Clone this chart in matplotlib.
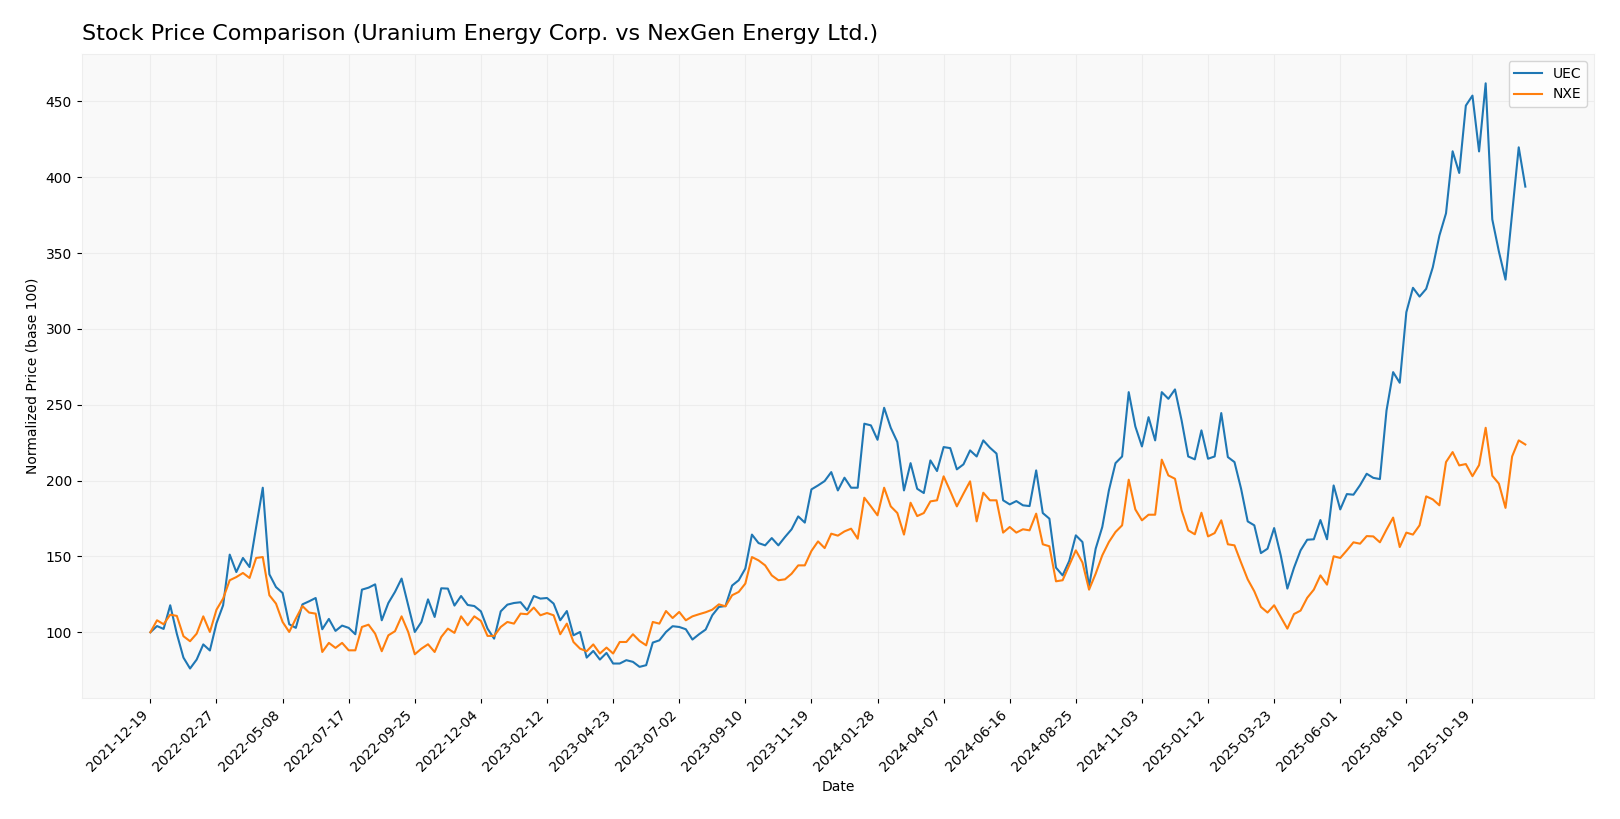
import pandas as pd
import numpy as np
import matplotlib
matplotlib.use('Agg')
import matplotlib.pyplot as plt

# weekly normalized closes (base 100)
start_date = '2021-12-19'

uec = [100, 104.1, 102.2, 117.8, 99, 83.3, 76.1, 82, 92, 88,
       106, 117.8, 151.2, 139.7, 149, 143, 169.4, 195.3, 138.2, 129.8,
       125.9, 105.3, 102.9, 118.4, 120.4, 122.6, 102, 108.8, 100.9, 104.4,
       102.9, 98.7, 128.1, 129.4, 131.6, 107.9, 119.3, 126.6, 135.4, 117.8,
       100.2, 106.8, 121.7, 110.1, 129, 128.8, 117.6, 123.9, 118, 117.3,
       113.8, 102.4, 95.8, 113.8, 118.2, 119.3, 119.8, 114.5, 123.9, 122.2,
       122.6, 118.9, 107.9, 114, 98, 100.2, 83.3, 87.7, 82, 86.4,
       79.4, 79.4, 81.6, 80.5, 77.2, 78.3, 93.2, 94.7, 100.2, 104,
       103.5, 102, 95.2, 98.7, 101.8, 111.2, 116.7, 117.3, 130.8, 134.3,
       142, 164.4, 158.8, 157.3, 162.1, 157.3, 162.8, 167.9, 176.4, 172.3,
       194.2, 196.8, 199.7, 205.6, 193.5, 201.9, 195.3, 195.3, 237.5, 236.4,
       226.9, 248, 234.8, 225.4, 193.5, 211.5, 194.6, 191.8, 213.3, 206.3,
       222.1, 221.4, 207.4, 210.7, 219.9, 215.9, 226.5, 221.7, 217.8, 187,
       184.3, 186.5, 183.7, 183.2, 206.7, 178.6, 174.9, 142.6, 137.5, 147,
       163.9, 159.5, 130.3, 155.1, 169.4, 193.5, 211.5, 215.9, 258.3, 235.7,
       222.5, 241.8, 226.5, 258.3, 253.9, 260.1, 239.7, 215.9, 214, 233.1,
       214.4, 215.9, 244.5, 215.5, 212.2, 194.6, 173.1, 170.5, 152.2, 155.1,
       168.7, 150.7, 128.8, 142.5, 154, 161, 161.3, 174, 161.3, 196.8,
       181, 191.1, 190.7, 197, 204.5, 201.8, 201, 246.2, 271.5, 264.5,
       311, 327.1, 321.3, 326.4, 340.6, 361.5, 376.2, 417.1, 402.8, 447.2,
       453.8, 417, 461.9, 372.2, 351, 332.5, 375.8, 419.7, 393.8]

nxe = [100, 107.9, 105.3, 111.6, 110.8, 97.4, 94.1, 99.1, 110.5, 100.2,
       114.9, 122.2, 134.3, 136.4, 139.1, 135.8, 149, 149.6, 124.4, 118.9,
       106.8, 100.2, 109, 117.3, 113, 112.3, 87, 93, 89.7, 93,
       88.1, 88.1, 103.5, 105, 99.1, 87.5, 98, 100.7, 110.5, 100.2,
       85.5, 89.2, 92.1, 87, 96.9, 102.4, 99.6, 110.5, 104.6, 110.5,
       107.5, 97.6, 97.6, 103.5, 106.8, 105.7, 112.3, 111.9, 116.3, 111.2,
       112.7, 111.2, 98.7, 105.7, 93.6, 89.2, 87.5, 92, 86, 89.9,
       86, 93.6, 93.6, 98.7, 94.3, 91.4, 106.8, 105.7, 114, 109.4,
       113.4, 107.9, 110.5, 111.9, 113.2, 114.9, 118.4, 117.1, 124.4, 126.6,
       132.1, 149.6, 147.4, 144.1, 137.5, 134.3, 134.9, 138.6, 144.1, 144.1,
       153.6, 159.9, 155.5, 165, 163.7, 166.5, 168.3, 161.7, 188.7, 183,
       177.1, 195.3, 183, 178.6, 164.4, 185.4, 176.6, 178.6, 186.3, 187,
       202.8, 193.1, 183, 191.4, 199.5, 173.1, 192, 187, 187, 165.7,
       169.4, 165.7, 167.9, 167.2, 178.2, 158, 156.7, 133.6, 134.3, 144.1,
       154, 146, 128.1, 138.6, 150.7, 159.5, 166.1, 170.5, 200.6, 181,
       173.8, 177.5, 177.5, 213.8, 203.4, 201.2, 180.4, 167.2, 164.6, 178.8,
       163.2, 165.4, 173.8, 158, 157.3, 145.9, 134.9, 127, 116.7, 113,
       117.8, 110.1, 102.4, 112, 114.3, 122.7, 128.1, 137.5, 131.4, 150.1,
       149, 154, 159.3, 158.4, 163.4, 163.2, 159.3, 167.7, 175.6, 156.2,
       165.7, 164.4, 170.5, 189.6, 187.6, 183.7, 212.2, 218.8, 210, 210.9,
       202.9, 210.2, 234.8, 203.2, 198, 182, 215.9, 226.5, 223.8]

dates = pd.date_range(start_date, periods=len(uec), freq='7D')

fig = plt.figure(figsize=(16.2, 8.19), dpi=100)
ax = fig.add_axes([0.0504, 0.148, 0.9336, 0.786])
ax.set_facecolor('#f9f9f9')

ax.plot(dates, uec, color='#1f77b4', linewidth=1.5, label='UEC')
ax.plot(dates, nxe, color='#ff7f0e', linewidth=1.5, label='NXE')

ticks = dates[::10]
ax.set_xticks(ticks)
ax.set_xticklabels([d.strftime('%Y-%m-%d') for d in ticks], rotation=45, ha='right')

ax.grid(True, color='#e6e6e6', linewidth=0.8, alpha=0.6)
for s in ax.spines.values():
    s.set_color('#eeeeee')

ax.set_title('Stock Price Comparison (Uranium Energy Corp. vs NexGen Energy Ltd.)',
             loc='left', fontsize=16, pad=10)
ax.set_xlabel('Date')
ax.set_ylabel('Normalized Price (base 100)')
ax.legend(loc='upper right')

plt.savefig('out.png')
